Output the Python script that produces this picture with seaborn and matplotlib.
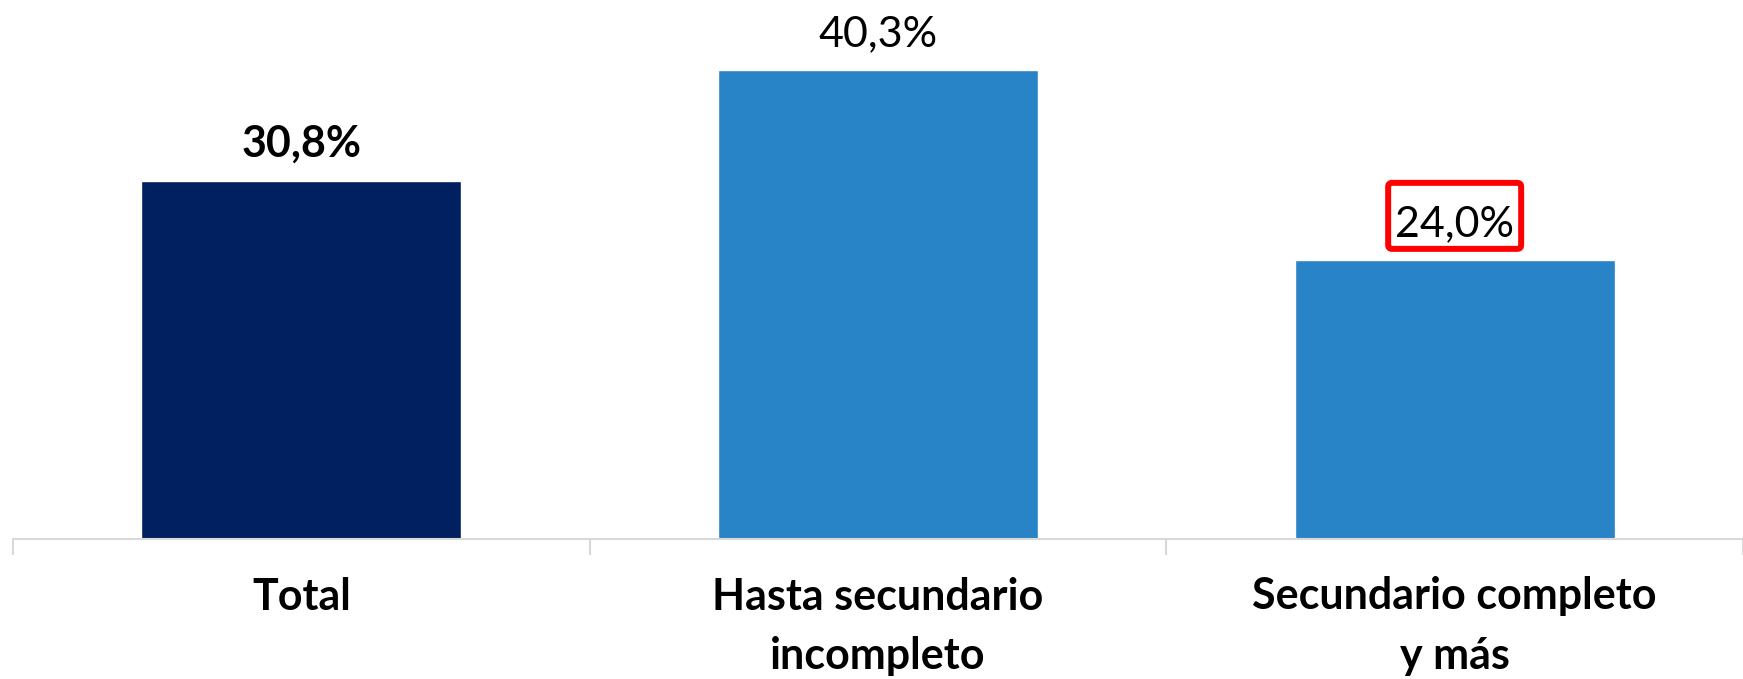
#!/usr/bin/env python3
"""Bar chart: share by education level (Total vs. breakdown)."""

import matplotlib

matplotlib.use("Agg")

import matplotlib.patches as mpatches
import matplotlib.pyplot as plt
import pandas as pd
import seaborn as sns
from matplotlib.transforms import IdentityTransform

categories = ["Total", "Hasta secundario\nincompleto", "Secundario completo\ny más"]
values = [30.8, 40.3, 24.0]
value_labels = ["30,8%", "40,3%", "24,0%"]
bar_colors = ["#002060", "#2884C6", "#2884C6"]
label_bold = [True, False, False]
label_boxed = [False, False, True]


def build_plot(output_path: str) -> None:
    df = pd.DataFrame({"Categoria": categories, "Valor": values})

    sns.set_theme(style="white")
    plt.rcParams["font.family"] = ["Lato", "DejaVu Sans"]

    fig = plt.figure(figsize=(17.43, 6.79), dpi=100)
    ax = fig.add_axes([13 / 1743, 140 / 679, 1 - 13 / 1743, 539 / 679])

    sns.barplot(
        data=df,
        x="Categoria",
        y="Valor",
        hue="Categoria",
        palette=bar_colors,
        width=0.555,
        saturation=1,
        legend=False,
        ax=ax,
    )

    ax.set_xlim(-0.5, len(categories) - 0.5)
    ax.set_ylim(0, 539 / 11.63)

    boxed = []
    for i, (val, text) in enumerate(zip(values, value_labels)):
        t = ax.annotate(
            text,
            xy=(i, val),
            xytext=(0, 17.3),
            textcoords="offset points",
            ha="center",
            va="baseline",
            fontsize=31,
            fontweight="bold" if label_bold[i] else "normal",
            color="black",
        )
        if label_boxed[i]:
            boxed.append(t)

    for side in ["top", "left", "right"]:
        ax.spines[side].set_visible(False)
    ax.spines["bottom"].set_color("#D9D9D9")
    ax.spines["bottom"].set_linewidth(1.5)

    ax.set_yticks([])
    ax.set_xticks(range(len(categories)))
    ax.set_xticklabels(categories, fontsize=31, fontweight="bold", linespacing=1.58)
    ax.set_xticks([i - 0.5 for i in range(len(categories) + 1)], minor=True)
    ax.tick_params(axis="x", which="major", bottom=False, length=0, pad=27, colors="black")
    ax.tick_params(axis="x", which="minor", bottom=True, length=11.5, width=1.5, color="#D9D9D9")
    ax.set_xlabel("")
    ax.set_ylabel("")

    # red highlight frame around the boxed value label (pixel padding)
    fig.canvas.draw()
    renderer = fig.canvas.get_renderer()
    for t in boxed:
        bb = t.get_window_extent(renderer)
        x0, x1 = bb.x0 - 7, bb.x1 + 7
        y0, y1 = bb.y0 - 6, bb.y1 + 22
        frame = mpatches.FancyBboxPatch(
            (x0, y0),
            x1 - x0,
            y1 - y0,
            boxstyle="round,pad=0,rounding_size=4",
            transform=IdentityTransform(),
            facecolor="none",
            edgecolor="#FF0000",
            linewidth=4.3,
        )
        fig.patches.append(frame)

    fig.savefig(output_path, dpi=100)
    plt.close(fig)


def main() -> None:
    build_plot("out.png")


if __name__ == "__main__":
    main()
